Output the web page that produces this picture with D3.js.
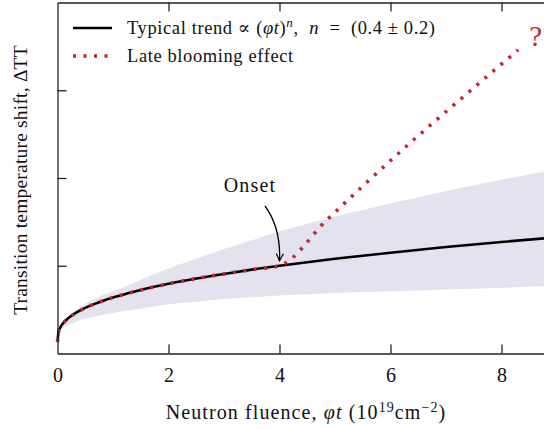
<!DOCTYPE html>
<html><head><meta charset="utf-8">
<script src="https://cdn.jsdelivr.net/npm/d3@7"></script>
<style>
html,body{margin:0;padding:0;background:#fff;}
svg text{font-family:"Liberation Serif","DejaVu Serif",serif;fill:#111;}
</style></head>
<body><svg id="c" width="544" height="429"></svg>
<script>
// Data
const fluence  = [0, 0.02, 0.05, 0.1, 0.15, 0.25, 0.4, 0.6, 0.8, 1, 1.25, 1.5, 2, 2.5, 3, 3.5, 4, 5, 6, 7, 8, 9, 10];
const trend    = [0.13, 0.252, 0.297, 0.344, 0.378, 0.43, 0.488, 0.548, 0.596, 0.638, 0.683, 0.724, 0.794, 0.854, 0.907, 0.956, 1.0, 1.079, 1.149, 1.213, 1.271, 1.325, 1.376];
const bandLow  = [0.13, 0.22, 0.26, 0.29, 0.31, 0.34, 0.38, 0.41, 0.44, 0.46, 0.49, 0.51, 0.56, 0.59, 0.62, 0.64, 0.66, 0.69, 0.71, 0.73, 0.75, 0.77, 0.79];
const bandHigh = [0.13, 0.26, 0.31, 0.36, 0.40, 0.46, 0.53, 0.60, 0.66, 0.71, 0.77, 0.84, 0.97, 1.08, 1.19, 1.29, 1.39, 1.56, 1.71, 1.85, 1.98, 2.10, 2.22];
const bloomX   = [4.85, 6.23, 7.43, 8.3];
const bloomY   = [1.52, 2.33, 2.99, 3.46];
const xTicks   = [0, 2, 4, 6, 8];
const yTicks   = [1, 2, 3];

(function () {
const svg = d3.select("#c");
const x = d3.scaleLinear().domain([0, 10]).range([57.5, 612.5]);
const y = d3.scaleLinear().domain([0, 4]).range([353.5, 2.5]);

const pts = fluence.map((f, i) => ({x: f, t: trend[i], lo: bandLow[i], hi: bandHigh[i]}));

// band
svg.append("path").datum(pts)
  .attr("d", d3.area().x(d => x(d.x)).y0(d => y(d.lo)).y1(d => y(d.hi)).curve(d3.curveMonotoneX))
  .attr("fill", "#e3e2ee");

// trend line
svg.append("path").datum(pts)
  .attr("d", d3.line().x(d => x(d.x)).y(d => y(d.t)).curve(d3.curveMonotoneX))
  .attr("fill", "none").attr("stroke", "#000").attr("stroke-width", 2.6);

// late blooming dotted
const bloom = pts.filter(d => d.x <= 4).map(d => ({x: d.x, v: d.t}))
  .concat(bloomX.map((b, i) => ({x: b, v: bloomY[i]})));
svg.append("path").datum(bloom)
  .attr("d", d3.line().x(d => x(d.x)).y(d => y(d.v)).curve(d3.curveMonotoneX))
  .attr("fill", "none").attr("stroke", "#c1272d").attr("stroke-width", 3.6)
  .attr("stroke-dasharray", "3,7.5");

svg.append("text").attr("x", x(8.5)).attr("y", y(3.5))
  .attr("font-size", 29).style("fill", "#c1272d").text("?");

// axes
const tickLen = 9;
const gBottom = svg.append("g").attr("transform", `translate(0,${y(0)})`)
  .call(d3.axisBottom(x).tickValues(xTicks).tickSizeInner(-tickLen).tickSizeOuter(0).tickPadding(14));
const gTop = svg.append("g").attr("transform", `translate(0,${y(4)})`)
  .call(d3.axisTop(x).tickValues(xTicks.filter(v => v > 0)).tickSizeInner(-tickLen).tickSizeOuter(0).tickFormat(""));
const gLeft = svg.append("g").attr("transform", `translate(${x(0)},0)`)
  .call(d3.axisLeft(y).tickValues(yTicks).tickSizeInner(-tickLen).tickSizeOuter(0).tickFormat(""));
[gBottom, gTop, gLeft].forEach(g => {
  g.selectAll("path.domain").attr("stroke", "#222").attr("stroke-width", 1.3);
  g.selectAll(".tick line").attr("stroke", "#222").attr("stroke-width", 1.3);
});
gBottom.selectAll(".tick line").filter(d => d === 0).remove();
gBottom.selectAll(".tick text").attr("font-family", "Liberation Serif").attr("font-size", 20).style("fill", "#111");

// axis titles
const xt = svg.append("text").attr("x", 306).attr("y", 419).attr("text-anchor", "middle")
  .attr("font-size", 20).attr("letter-spacing", 1.1);
xt.append("tspan").text("Neutron fluence, ");
xt.append("tspan").attr("font-style", "italic").text("φt");
xt.append("tspan").text(" (10");
xt.append("tspan").attr("font-size", 14).attr("dy", -7).text("19");
xt.append("tspan").attr("dy", 7).text("cm");
xt.append("tspan").attr("font-size", 14).attr("dy", -7).text("−2");
xt.append("tspan").attr("dy", 7).text(")");

svg.append("text").attr("transform", "translate(27,180) rotate(-90)")
  .attr("text-anchor", "middle").attr("font-size", 19.5).attr("letter-spacing", 0.2)
  .text("Transition temperature shift, ΔTT");

// legend
svg.append("line").attr("x1", 73).attr("x2", 112).attr("y1", 28).attr("y2", 28)
  .attr("stroke", "#000").attr("stroke-width", 2.6);
svg.append("line").attr("x1", 73).attr("x2", 114).attr("y1", 56).attr("y2", 56)
  .attr("stroke", "#c1272d").attr("stroke-width", 3.6).attr("stroke-dasharray", "3,7.5");
const l1 = svg.append("text").attr("x", 127).attr("y", 34).attr("font-size", 18.5).attr("letter-spacing", 0.6);
l1.append("tspan").text("Typical trend ∝ (");
l1.append("tspan").attr("font-style", "italic").text("φt");
l1.append("tspan").text(")");
l1.append("tspan").attr("font-style", "italic").attr("font-size", 13).attr("dy", -7).text("n");
l1.append("tspan").attr("dy", 7).text(",\u00A0\u00A0");
l1.append("tspan").attr("font-style", "italic").text("n");
l1.append("tspan").text("\u00A0\u00A0=\u00A0\u00A0(0.4\u00A0±\u00A00.2)");
svg.append("text").attr("x", 127).attr("y", 62).attr("font-size", 18.5).attr("letter-spacing", 0.6)
  .text("Late blooming effect");

// onset annotation
svg.append("text").attr("x", 250).attr("y", 192).attr("text-anchor", "middle")
  .attr("font-size", 20).attr("letter-spacing", 1.2).text("Onset");
svg.append("defs").append("marker").attr("id", "ah").attr("viewBox", "0 0 10 10")
  .attr("refX", 9).attr("refY", 5).attr("markerWidth", 9).attr("markerHeight", 9)
  .attr("orient", "auto").attr("markerUnits", "userSpaceOnUse")
  .append("path").attr("d", "M1,1 L9,5 L1,9").attr("fill", "none").attr("stroke", "#000").attr("stroke-width", 1.3);
const ox = x(4), oy = y(trend[16]);
svg.append("path")
  .attr("d", `M265,206 Q281,228 ${ox},${oy - 5}`)
  .attr("fill", "none").attr("stroke", "#000").attr("stroke-width", 1.3).attr("marker-end", "url(#ah)");
})();
</script></body></html>
